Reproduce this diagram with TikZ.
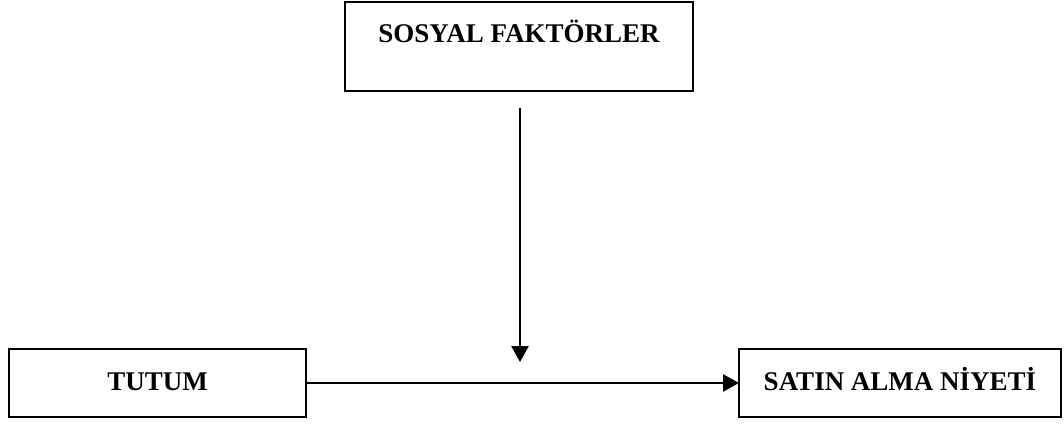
\documentclass[tikz,border=0pt]{standalone}
\usepackage{fontspec}
\setmainfont{Liberation Serif}
\usetikzlibrary{arrows.meta}
\tikzset{
  title/.style={font=\fontsize{27}{31}\selectfont\bfseries},
  box/.style={draw, line width=2.5pt, inner sep=0pt, outer sep=0pt, title,
    text height=19pt, text depth=5pt},
  flow/.style={line width=2.6pt, -{Triangle[length=16pt,width=17pt]}}
}
\begin{document}
\begin{tikzpicture}[x=1pt,y=-1pt]
  \useasboundingbox (0,0) rectangle (1064,423);
  % factor box, with its title near the top
  \node[box, minimum width=348pt, minimum height=89pt,
        label={[anchor=north, yshift=-15pt, title]north:SOSYAL FAKTÖRLER}]
        (sosyal) at (519,46.5) {};
  % the two boxes of the main path
  \node[box, minimum width=297pt, minimum height=68pt] (tutum) at (157.5,383) {TUTUM};
  \node[box, minimum width=322pt, minimum height=68pt] (niyet) at (900,383) {SATIN ALMA NİYETİ};
  % end point of the moderating arrow, just above the main path
  \coordinate (moder) at (520,362);
  % main path
  \draw[flow] (tutum.east) -- (niyet.west);
  % moderating effect
  \draw[flow] ([xshift=1pt,yshift=-17pt]sosyal.south) -- (moder);
\end{tikzpicture}
\end{document}
